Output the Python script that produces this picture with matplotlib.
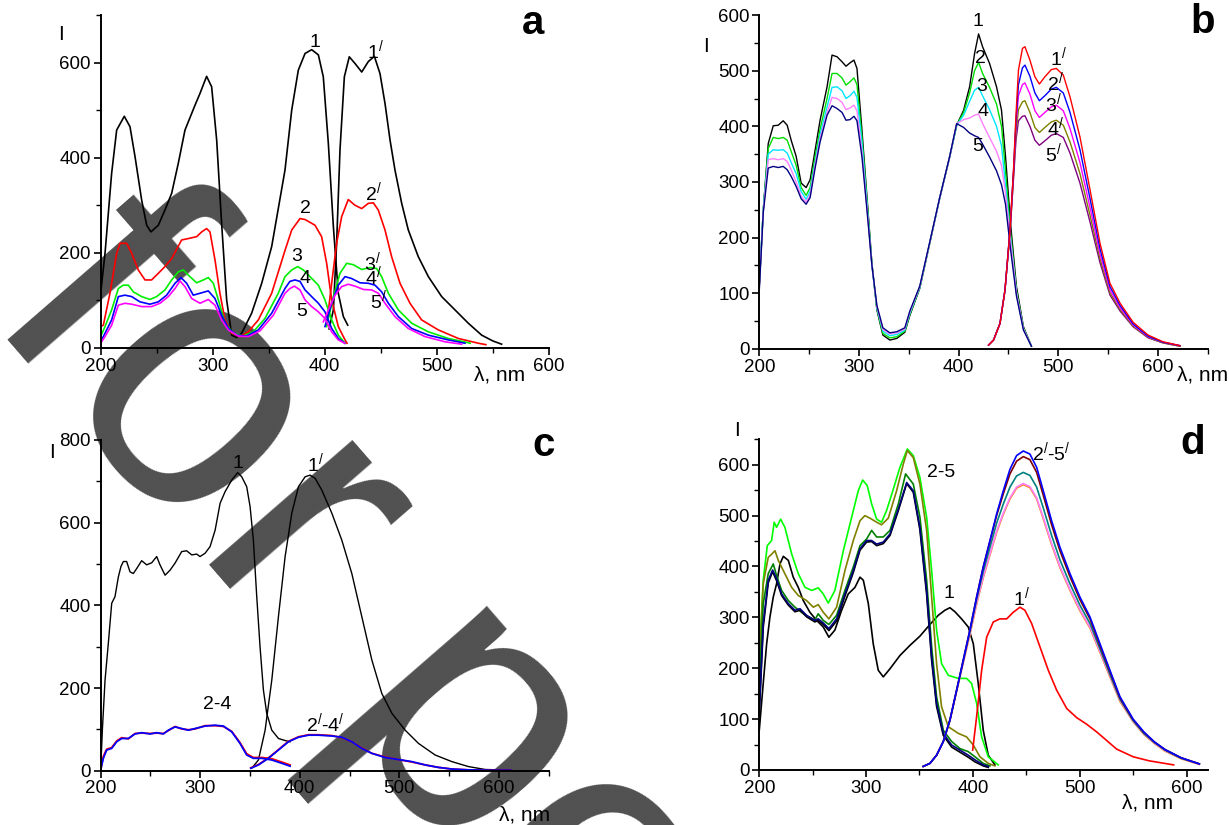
import matplotlib
matplotlib.use('Agg')
import matplotlib.pyplot as plt
from matplotlib.ticker import MultipleLocator
from matplotlib import font_manager

# ---- panel a ----
a_ex1_x = [200, 203.9, 209.8, 214.3, 221.1, 226.2, 230.7, 236.6, 241.1, 244.9, 251.5, 257.4, 263.4, 269.3,
           275.3, 284.2, 288.7, 294.6, 299.1, 303.6, 308.0, 312.5, 317.0, 321.4, 325.9, 334.8, 343.8, 352.7,
           364.6, 370.6, 376.5, 382.5, 388.4, 394.4, 398.8, 403.3, 407.8, 412.2, 416.7, 420.6]
a_ex1_y = [115, 199, 367, 458, 487, 465, 402, 311, 258, 244, 258, 290, 325, 388, 458, 510, 535, 571, 549, 437,
           262, 101, 27, 22, 31, 73, 136, 213, 374, 500, 584, 619, 627, 616, 570, 430, 255, 115, 66, 48]
a_em1_x = [404, 407.8, 410.7, 413.7, 417.6, 422.0, 427.1, 433.1, 439.0, 444.4, 449.4, 453.9, 458.4, 462.8,
           468.8, 474.7, 483.6, 492.6, 504.5, 516.4, 528.3, 540.2, 550, 558]
a_em1_y = [40, 80, 220, 416, 570, 612, 598, 580, 602, 613, 577, 514, 437, 374, 304, 248, 192, 150, 108, 80,
           52, 27, 15, 8]
a_ex2_x = [200, 202.4, 208.3, 214.3, 217.3, 223.2, 227.7, 233.6, 239.6, 245.5, 251.5, 257.4, 263.4, 272.3,
           278.3, 285.7, 290.2, 294.6, 297.6, 302.1, 306.5, 311.0, 317.0, 324.4, 331.8, 340.8, 352.7, 364.6,
           370.6, 378, 382.5, 391.4, 397.3, 401.8, 406.3, 412.2, 418.2, 420]
a_ex2_y = [45, 48, 115, 199, 220, 220, 199, 164, 143, 143, 157, 171, 188, 227, 230, 234, 244, 251, 244, 185,
           115, 59, 31, 24, 34, 59, 115, 205, 248, 272, 270, 258, 234, 178, 101, 45, 17, 10]
a_em2_x = [401.8, 406.3, 410.7, 415.2, 421.1, 427.1, 433.1, 439, 443.5, 447.9, 453.9, 459.8, 467.3, 476.2,
           486.6, 501.5, 519.4, 537.2, 544]
a_em2_y = [48, 136, 220, 276, 312, 300, 293, 304, 305, 290, 248, 192, 136, 94, 59, 38, 20, 10, 7]
a_ex3_x = [200, 203.9, 209.8, 215.8, 220.2, 224.7, 229.2, 236.6, 244, 250, 257.4, 263.4, 269.3, 273.8, 278.3,
           285.7, 291.7, 296.1, 300.6, 305.1, 311, 318.5, 327.4, 336.3, 346.7, 358.6, 364.6, 370.6, 375.9,
           381, 386.9, 394.4, 400.3, 406.3, 412.2, 418.2]
a_ex3_y = [24, 45, 80, 125, 132, 132, 118, 108, 102, 108, 122, 143, 160, 164, 153, 137, 143, 148, 136, 101,
           52, 31, 25, 34, 62, 115, 150, 164, 171, 164, 150, 132, 101, 59, 27, 10]
a_em3_x = [401.8, 407.8, 413.7, 419.7, 425.6, 433.1, 440.5, 446.4, 450.9, 456.9, 465.8, 477.7, 492.6, 510.4,
           528.3, 530]
a_em3_y = [45, 108, 157, 178, 175, 165, 169, 167, 150, 115, 80, 52, 34, 20, 11, 10]
a_ex4_x = [200, 203.9, 209.8, 215.8, 221.7, 227.7, 235.1, 244, 251.5, 258.9, 266.4, 271.7, 276.8, 282.7,
           288.7, 296.1, 302.1, 308, 314, 321.4, 330.4, 340.8, 352.7, 364.6, 369, 373.5, 378, 382.5, 388.4,
           394.4, 400.3, 406.3, 412.2, 418]
a_ex4_y = [13, 31, 59, 108, 111, 108, 97, 92, 97, 111, 136, 148, 136, 111, 115, 120, 104, 69, 41, 27, 25, 38,
           73, 125, 140, 143, 140, 122, 108, 94, 76, 41, 20, 10]
a_em4_x = [400.3, 406.3, 412.2, 418.2, 424.1, 431.6, 439, 445, 450.9, 456.9, 465.8, 477.7, 492.6, 510.4, 525.3]
a_em4_y = [45, 94, 132, 150, 146, 137, 136, 132, 118, 94, 66, 41, 27, 17, 10]
a_ex5_x = [200, 203.9, 209.8, 215.8, 221.7, 227.7, 236.6, 245.5, 253, 260.4, 266.4, 270.8, 275.3, 281.3,
           288.7, 296.1, 302.1, 308, 314, 322.9, 331.8, 342.3, 354.2, 364.6, 369, 373, 378, 382.5, 388.4,
           394.4, 400.3, 406.3, 412.2, 418]
a_ex5_y = [10, 24, 48, 90, 94, 92, 87, 87, 94, 108, 125, 141, 129, 104, 94, 102, 90, 59, 38, 25, 24, 36, 69,
           115, 125, 130, 122, 101, 87, 76, 62, 34, 17, 10]
a_em5_x = [398.8, 403.3, 409.3, 415.2, 421.1, 427.1, 434.6, 442, 448, 453.9, 462.8, 474.7, 489.6, 507.5, 522.3]
a_em5_y = [55, 80, 111, 129, 134, 130, 123, 122, 115, 94, 66, 41, 24, 13, 8]

# ---- panel b ----
b_ex_x = [200, 204, 209, 214, 219, 224, 228, 232, 237, 242, 247, 251, 256, 261, 268, 273, 278, 283, 287, 291,
          295, 298, 303, 308, 313, 318, 324, 331, 338, 346, 351, 361, 371, 381, 391, 398, 405, 411, 416, 420,
          424, 431, 438, 443, 447, 452, 458, 465, 473]
b_ex1 = [112, 250, 369, 401, 402, 410, 402, 375, 346, 298, 290, 304, 357, 411, 471, 528, 525, 516, 508, 514,
         519, 504, 393, 274, 154, 70, 25, 16, 19, 30, 60, 109, 190, 271, 345, 402, 429, 471, 531, 566,
         543, 513, 471, 429, 346, 226, 112, 40, 5]
b_ex2 = [115, 250, 360, 380, 378, 380, 375, 355, 330, 290, 276, 290, 345, 395, 450, 495, 495, 487, 474, 480,
         487, 475, 380, 268, 152, 72, 28, 20, 22, 32, 62, 110, 190, 271, 345, 402, 425, 460, 500, 515,
         495, 470, 440, 400, 320, 210, 105, 38, 5]
b_ex3 = [118, 250, 350, 358, 357, 358, 352, 335, 315, 283, 269, 283, 335, 385, 435, 470, 471, 464, 450, 455,
         463, 452, 370, 262, 150, 74, 32, 24, 26, 34, 64, 111, 191, 271, 345, 402, 420, 445, 465, 470,
         455, 430, 400, 365, 295, 200, 100, 36, 5]
b_ex4 = [112, 248, 340, 342, 340, 342, 337, 322, 300, 275, 264, 277, 330, 378, 425, 452, 450, 443, 430, 433,
         438, 428, 355, 255, 150, 76, 35, 27, 29, 36, 66, 112, 191, 271, 345, 405, 412, 415, 420, 422,
         405, 380, 355, 330, 280, 195, 100, 36, 5]
b_ex5 = [105, 245, 325, 328, 326, 328, 322, 310, 292, 270, 260, 272, 325, 372, 420, 437, 432, 425, 411, 412,
         418, 410, 345, 250, 150, 78, 38, 29, 31, 38, 68, 113, 192, 272, 346, 405, 398, 388, 383, 380,
         368, 345, 320, 295, 260, 180, 95, 34, 5]
b_em_x = [430, 435, 441.5, 446.5, 451.5, 455, 457.5, 460, 464, 466.5, 471.5, 476.5, 481, 486.5, 493, 498, 505,
          511.7, 521.7, 531.8, 541.8, 551.8, 562, 575, 590, 605, 622]
b_em1 = [7, 16, 46, 106, 214, 320, 420, 501, 540, 543, 519, 489, 476, 489, 502, 504, 492, 453, 381, 286, 190,
         118, 82, 48, 25, 13, 6]
b_em2 = [7, 16, 46, 106, 214, 318, 410, 475, 505, 510, 490, 460, 446, 455, 467, 470, 460, 425, 358, 270, 180,
         112, 78, 45, 23, 12, 6]
b_em3 = [7, 16, 46, 106, 212, 315, 400, 455, 475, 478, 458, 428, 416, 425, 435, 438, 428, 396, 335, 254, 170,
         106, 74, 43, 22, 12, 6]
b_em4 = [7, 16, 46, 106, 210, 310, 388, 430, 444, 446, 425, 398, 389, 398, 408, 411, 402, 372, 315, 240, 162,
         101, 71, 41, 21, 11, 5]
b_em5 = [7, 16, 46, 106, 208, 305, 375, 410, 418, 419, 400, 375, 366, 374, 384, 387, 380, 352, 298, 228, 155,
         97, 68, 40, 20, 11, 5]

# ---- panel c ----
c_ex1_x = [200, 201.7, 204.4, 207.7, 211.1, 214.4, 217.8, 220.4, 222.8, 226.1, 229.5, 232.8, 236.2, 241.2,
           246.2, 251.3, 256.3, 259.6, 264.7, 269.7, 274.7, 281.4, 286.4, 291.5, 296.5, 299.8, 304.9, 309.9,
           315, 320, 325, 331.7, 337.7, 341.7, 346.7, 350.1, 353.4, 356.8, 360.1, 363.5, 366.8, 371.9, 378.6,
           385.3, 390.3]
c_ex1_y = [2, 98, 219, 308, 405, 421, 469, 494, 506, 506, 481, 477, 489, 508, 498, 503, 518, 498, 473, 485,
           502, 530, 532, 522, 524, 518, 526, 542, 582, 647, 675, 703, 721, 711, 687, 639, 558, 421, 300, 195,
           139, 98, 78, 73, 70]
c_em1_x = [351.8, 358.5, 365.2, 371.9, 378.6, 385.3, 392, 398.7, 405.4, 410.4, 415.5, 422.1, 432.2, 442.2,
           452.3, 462.3, 472.4, 482.4, 492.5, 505.9, 519.3, 536, 552.8, 569.5, 586.3, 600, 612]
c_em1_y = [6, 26, 98, 219, 373, 518, 623, 687, 711, 715, 707, 679, 623, 558, 477, 373, 268, 187, 139, 98, 66,
           38, 22, 10, 3, 2, 1]
c_ex24_x = [200, 202.7, 206, 211.1, 216.1, 221.1, 227.8, 234.5, 241.2, 249.6, 256.3, 263, 268, 274.7, 281.4,
            288.1, 294.8, 304.9, 315, 323.3, 331.7, 340, 346.7, 353.4, 361.8, 371.9, 381.9, 390.3]
c_ex24_blue = [2, 30, 50, 54, 70, 78, 78, 89, 92, 89, 92, 89, 98, 106, 102, 98, 102, 108, 110, 108, 94, 66,
               38, 30, 30, 26, 18, 11]
c_ex24_red = [2, 35, 52, 56, 72, 80, 77, 90, 91, 90, 91, 90, 97, 107, 101, 99, 101, 109, 109, 107, 95, 68, 41,
              32, 32, 29, 21, 14]
c_em24_x = [350.8, 358.5, 368.5, 378.6, 388.6, 398.7, 408.7, 418.8, 432.2, 442.2, 452.3, 462.3, 472.4, 485.8,
            499.2, 512.6, 526, 539.4, 552.8, 569.5, 590, 612]
c_em24_blue = [6, 14, 30, 50, 70, 81, 86, 86, 84, 81, 70, 54, 42, 32, 27, 22, 14, 8, 4, 2, 1, 1]
c_em24_red = [7, 15, 31, 51, 71, 82, 87, 87, 85, 80, 70, 55, 42, 33, 27, 21, 14, 8, 4, 2, 1, 1]

# ---- panel d ----
d_ex1_x = [200, 203.7, 206.9, 210, 213.1, 216.2, 219.4, 222.5, 227.2, 231.8, 236.5, 241.2, 247.4, 253.7,
           259.9, 265.2, 270.8, 277.1, 283.3, 289.6, 294.3, 297.4, 302.1, 306.7, 311.4, 316.1, 322.4, 331.7,
           341.1, 350.4, 359.8, 367.6, 373.8, 378.5, 383.2, 389.4, 395.7, 400.4, 405, 409.7, 414.4, 420.6]
d_ex1_y = [78, 170, 248, 301, 340, 366, 405, 420, 412, 379, 359, 333, 310, 294, 281, 261, 275, 314, 346, 359,
           379, 373, 327, 248, 196, 183, 199, 225, 245, 263, 286, 304, 314, 319, 311, 297, 281, 248, 170, 78,
           29, 10]
d_lime_x = [200, 203.7, 207.5, 211.5, 214, 216.2, 220, 224, 230.3, 236.5, 242.8, 249, 255.2, 259.9, 264.6,
            270.8, 278.7, 286.5, 292.7, 296.8, 301.1, 305.2, 309.9, 314.5, 319.2, 325.5, 331.7, 338.6, 344.2,
            350.4, 356.7, 361.4, 366, 370.7, 377, 386.3, 394.1, 398.8, 403.5, 408.2, 414.4, 423.8]
d_lime_y = [216, 373, 441, 451, 487, 477, 493, 477, 425, 386, 359, 353, 358, 346, 328, 353, 431, 497, 549,
            570, 559, 523, 493, 487, 510, 552, 595, 631, 618, 575, 497, 392, 275, 209, 186, 180, 180, 170,
            131, 65, 26, 10]
d_olive_x = [200, 203.7, 208.4, 211.5, 214.7, 217.8, 222.5, 230.3, 236.5, 244.3, 250.6, 255.2, 259.9, 265.2,
             272.4, 280.2, 288, 294.3, 298.9, 303.6, 309.9, 314.5, 320.8, 328.6, 334.8, 338.6, 344.2, 350.4,
             356.7, 361.4, 366, 370.7, 377, 386.3, 394.1, 400.4, 406.6, 414.4, 420.6]
d_olive_y = [209, 366, 418, 424, 431, 412, 392, 359, 343, 333, 320, 325, 310, 297, 320, 392, 451, 490, 500,
             495, 487, 482, 495, 549, 601, 628, 614, 562, 471, 340, 209, 124, 85, 72, 65, 49, 26, 13, 8]
d_dgreen_x = [200, 203.7, 208.4, 213.1, 216.2, 220.9, 227.2, 233.4, 239.6, 245.9, 252.1, 255.2, 259.9, 265.2,
              272.4, 280.2, 288, 294.3, 300.5, 305.2, 309.9, 316.1, 322.4, 330.2, 337, 344.2, 350.4, 356.7,
              361.4, 366, 372.3, 380.1, 387.9, 395.7, 401.9, 409.7, 416]
d_dgreen_y = [163, 327, 386, 405, 382, 353, 333, 320, 310, 301, 295, 307, 294, 286, 304, 353, 399, 441, 454,
              471, 458, 458, 471, 523, 582, 562, 497, 373, 242, 144, 78, 56, 42, 36, 26, 13, 8]
d_navy_x = [200, 203.7, 208.4, 212.5, 216.2, 220.9, 227.2, 233.4, 238.1, 244.3, 252.1, 255.2, 259.9, 265.2,
            272.4, 280.2, 288, 294.3, 300.5, 305.2, 309.9, 316.1, 322.4, 330.2, 338, 344.2, 350.4, 356.7,
            361.4, 366, 372.3, 380.1, 387.9, 395.7, 401.9, 409.7, 414.4]
d_navy_y = [118, 288, 373, 393, 376, 346, 327, 314, 317, 304, 294, 297, 289, 278, 297, 346, 392, 435, 451,
            451, 444, 448, 464, 513, 565, 549, 477, 353, 222, 131, 72, 49, 39, 29, 20, 10, 7]
d_blk_y = [110, 280, 368, 390, 372, 343, 324, 311, 314, 301, 291, 294, 286, 274, 293, 342, 388, 432, 448,
           449, 441, 445, 461, 510, 563, 546, 472, 345, 215, 125, 68, 45, 35, 25, 16, 8, 5]
d_em_x = [353.5, 359.8, 366, 372.3, 378.5, 384.8, 391, 397.2, 403.5, 409.7, 416, 422.2, 428.5, 434.7, 440.9,
          447.2, 453.4, 459.7, 465.9, 473.7, 481.5, 490.9, 500.2, 509.6, 519, 528.3, 537.7, 550, 560, 570,
          580, 595, 612]
d_em_blue = [7, 13, 29, 56, 98, 157, 216, 275, 340, 399, 451, 503, 549, 591, 618, 627, 621, 595, 549, 490,
             438, 386, 340, 301, 248, 196, 144, 100, 75, 55, 40, 24, 12]
d_em_dred = [7, 13, 29, 56, 98, 157, 216, 275, 340, 399, 450, 500, 543, 582, 607, 616, 610, 585, 540, 482,
             431, 380, 335, 297, 244, 193, 142, 99, 74, 55, 40, 24, 12]
d_em_teal = [7, 13, 29, 56, 98, 157, 214, 272, 335, 390, 438, 485, 523, 556, 578, 585, 579, 556, 515, 461,
             413, 366, 324, 288, 238, 188, 139, 97, 72, 54, 39, 23, 12]
d_em_orng = [7, 13, 29, 56, 97, 155, 211, 266, 326, 378, 423, 467, 503, 533, 554, 561, 555, 533, 494, 443,
             398, 353, 313, 279, 231, 183, 135, 95, 70, 52, 37, 22, 11]
d_em_viol = [7, 13, 29, 56, 98, 156, 212, 268, 328, 380, 425, 469, 505, 535, 556, 563, 557, 535, 496, 445,
             400, 355, 315, 281, 233, 185, 137, 96, 71, 53, 38, 23, 11]
d_em1_x = [399.8, 403.5, 408.2, 412.9, 419.1, 425.3, 431.6, 437.8, 444.1, 448.7, 455, 462.8, 470.6, 478.4,
           487.8, 497.1, 506.5, 515.8, 525.2, 534.6, 550, 565, 588]
d_em1_y = [39, 105, 196, 261, 291, 297, 297, 310, 320, 314, 288, 242, 196, 157, 121, 103, 90, 75, 58, 41, 26,
           18, 10]

# watermark letters and their baseline anchors (pixels from top-left)
wm_letters = ['f', 'o', 'r', 'p', 'e']
wm_px = [17, 114, 223, 385, 514]
wm_py = [357, 479, 609, 805, 953]

W, H = 1229, 825
names = {f.name for f in font_manager.fontManager.ttflist}
narrow = 'Liberation Sans Narrow' if 'Liberation Sans Narrow' in names else 'Liberation Sans'
plt.rcParams['font.family'] = [narrow, 'Liberation Sans', 'DejaVu Sans']
plt.rcParams['mathtext.fontset'] = 'custom'
plt.rcParams['mathtext.rm'] = 'Liberation Sans'
plt.rcParams['mathtext.it'] = 'Liberation Sans'

fig = plt.figure(figsize=(W / 100, H / 100), dpi=100)

# watermark, drawn under the axes
for s, px, py in zip(wm_letters, wm_px, wm_py):
    fig.text(px / W, 1 - py / H, s, rotation=-49, rotation_mode='anchor', ha='center', va='baseline',
             fontsize=259, family='Liberation Sans', color='#505050', zorder=-1)


def setup(rect, xlim, ylim, ymaj, ymin):
    ax = fig.add_axes(rect)
    ax.set_facecolor('none')
    ax.set_xlim(*xlim)
    ax.set_ylim(*ylim)
    for s in ('top', 'right'):
        ax.spines[s].set_visible(False)
    for s in ('left', 'bottom'):
        ax.spines[s].set_linewidth(1.4)
    ax.xaxis.set_major_locator(MultipleLocator(100))
    ax.xaxis.set_minor_locator(MultipleLocator(50))
    ax.yaxis.set_major_locator(MultipleLocator(ymaj))
    ax.yaxis.set_minor_locator(MultipleLocator(ymin))
    ax.tick_params(which='major', direction='out', length=5, width=1.2, labelsize=13.5, pad=2)
    ax.tick_params(which='minor', direction='out', length=3.5, width=1.0)
    return ax


def ftxt(px, py, s, **kw):
    fig.text(px / W, 1 - py / H, s, ha='center', va='center', **kw)


lw = 1.2
pr = '$^{/}$'

# a
ax = setup([0.0819, 0.5782, 0.3645, 0.4037], (200, 600), (0, 700), 200, 100)
ax.plot(a_ex1_x, a_ex1_y, color='black', lw=lw)
ax.plot(a_em1_x, a_em1_y, color='black', lw=lw)
ax.plot(a_ex2_x, a_ex2_y, color='#ff0000', lw=lw)
ax.plot(a_em2_x, a_em2_y, color='#ff0000', lw=lw)
ax.plot(a_ex3_x, a_ex3_y, color='#00ee00', lw=lw)
ax.plot(a_em3_x, a_em3_y, color='#00ee00', lw=lw)
ax.plot(a_ex4_x, a_ex4_y, color='#0000ff', lw=lw)
ax.plot(a_em4_x, a_em4_y, color='#0000ff', lw=lw)
ax.plot(a_ex5_x, a_ex5_y, color='#ff00ff', lw=lw)
ax.plot(a_em5_x, a_em5_y, color='#ff00ff', lw=lw)
for x, y, s in [(391, 643, '1'), (445, 627, '1' + pr), (382.5, 293, '2'), (443.5, 328, '2' + pr),
                (375, 192, '3'), (442.6, 181, '3' + pr), (382.5, 146, '4'), (443.5, 150, '4' + pr),
                (379.5, 76, '5'), (448, 101, '5' + pr)]:
    ax.text(x, y, s, ha='center', va='center', fontsize=14)

# b
ax = setup([0.6178, 0.5770, 0.3650, 0.4048], (200, 650), (0, 600), 100, 50)
for yy, c in [(b_ex1, 'black'), (b_ex2, '#00dd00'), (b_ex3, '#00e5ff'), (b_ex4, '#ff80ff'), (b_ex5, '#000080')]:
    ax.plot(b_ex_x, yy, color=c, lw=1.0)
for yy, c in [(b_em5, '#800080'), (b_em4, '#808000'), (b_em3, '#ff00ff'), (b_em2, '#0000ff'), (b_em1, '#ff0000')]:
    ax.plot(b_em_x, yy, color=c, lw=1.0)
for x, y, s in [(419.7, 588, '1'), (421.4, 522, '2'), (423, 471, '3'), (424.7, 426, '4'), (418.7, 363, '5'),
                (500, 525, '1' + pr), (496.7, 480, '2' + pr), (495, 441, '3' + pr), (496.7, 399, '4' + pr),
                (495, 352, '5' + pr)]:
    ax.text(x, y, s, ha='center', va='center', fontsize=14)

# c
ax = setup([0.0819, 0.0658, 0.3645, 0.4009], (200, 650), (0, 800), 200, 100)
ax.plot(c_ex1_x, c_ex1_y, color='black', lw=1.0)
ax.plot(c_em1_x, c_em1_y, color='black', lw=1.0)
ax.plot(c_ex24_x, c_ex24_red, color='#ff0000', lw=1.3)
ax.plot(c_em24_x, c_em24_red, color='#ff0000', lw=1.3)
ax.plot(c_ex24_x, c_ex24_blue, color='#0000ff', lw=1.3)
ax.plot(c_em24_x, c_em24_blue, color='#0000ff', lw=1.3)
for x, y, s in [(337.7, 744, '1'), (415.4, 744, '1' + pr), (316.6, 159, '2-4'), (425.5, 115, '2' + pr + '-4' + pr)]:
    ax.text(x, y, s, ha='center', va='center', fontsize=14)

# d
ax = setup([0.6178, 0.0667, 0.3650, 0.4008], (200, 620), (0, 650), 100, 50)
ax.plot(d_ex1_x, d_ex1_y, color='black', lw=lw)
ax.plot(d_lime_x, d_lime_y, color='#00ff00', lw=lw)
ax.plot(d_olive_x, d_olive_y, color='#808000', lw=lw)
ax.plot(d_dgreen_x, d_dgreen_y, color='#008000', lw=lw)
ax.plot(d_navy_x, d_blk_y, color='black', lw=lw)
ax.plot(d_navy_x, d_navy_y, color='#000080', lw=lw)
for yy, c in [(d_em_orng, '#ff8000'), (d_em_viol, '#ff80ff'), (d_em_teal, '#008080'), (d_em_dred, '#800000'),
              (d_em_blue, '#0000ff')]:
    ax.plot(d_em_x, yy, color=c, lw=lw)
ax.plot(d_em1_x, d_em1_y, color='#ff0000', lw=lw)
for x, y, s in [(370.7, 585, '2-5'), (473.7, 624, '2' + pr + '-5' + pr), (377.9, 346, '1'), (445.6, 340, '1' + pr)]:
    ax.text(x, y, s, ha='center', va='center', fontsize=14)

# axis names and panel letters
for px, py in [(61.5, 35), (706, 47), (52, 453), (737, 430)]:
    ftxt(px, py, 'I', fontsize=15)
for px, py in [(500, 375), (1203, 375), (525, 815), (1148, 803)]:
    ftxt(px, py, 'λ, nm', fontsize=15)
for px, py, s in [(533, 23, 'a'), (1203, 22, 'b'), (544, 445, 'c'), (1193, 443, 'd')]:
    ftxt(px, py, s, fontsize=29, fontweight='bold', family='Liberation Sans')

fig.savefig('out.png', dpi=100)
